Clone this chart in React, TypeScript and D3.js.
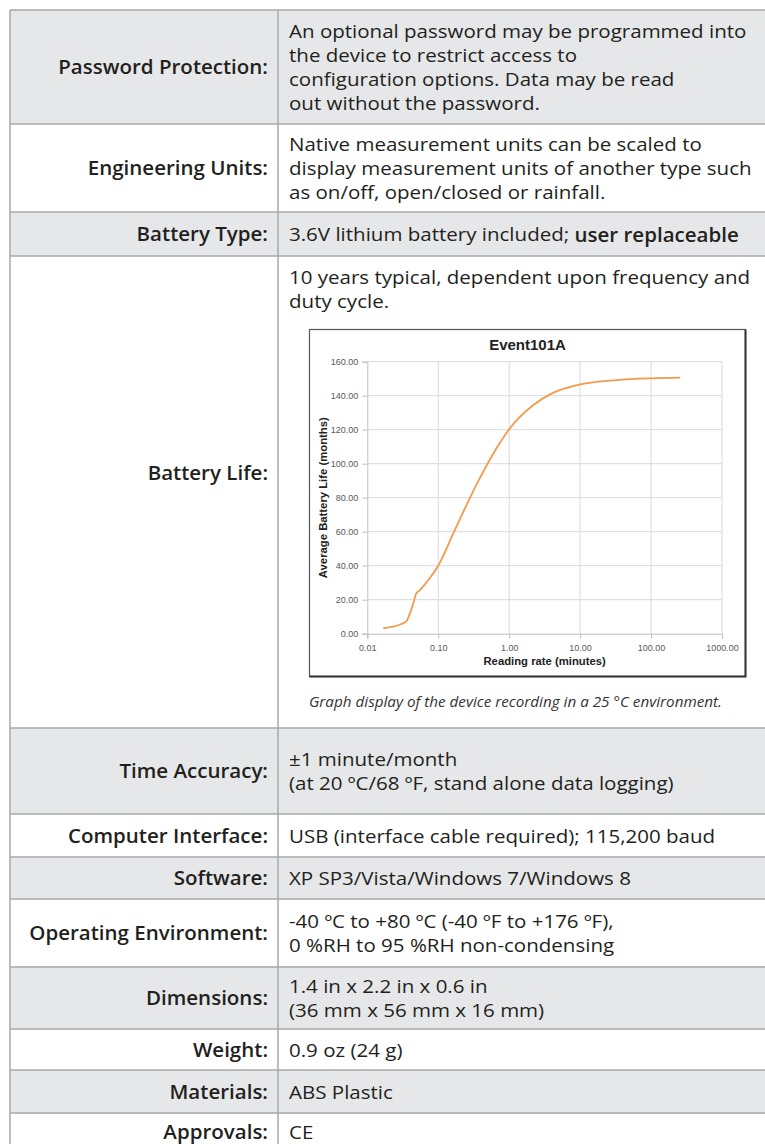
import { useEffect, useRef } from "react";
import * as d3 from "d3";

// battery life curve
const readingRate = [0.0168, 0.0289, 0.036, 0.0378, 0.0446, 0.0486, 0.0553, 0.0724, 0.1, 0.163, 0.296, 0.389, 0.483, 0.703, 1.0, 2.19, 4.2, 10, 32.9, 102, 257];
const batteryLife = [3.2, 5.4, 7.5, 9.5, 17.9, 23.4, 25.7, 31.6, 40, 59, 82, 91.8, 99.1, 110.8, 120.3, 134.5, 141.8, 146.7, 149.2, 150.2, 150.6];
const xTicks = [0.01, 0.1, 1, 10, 100, 1000];
const yTicks = [0, 20, 40, 60, 80, 100, 120, 140, 160];

// spec table
const labels = [
  "Password Protection:",
  "Engineering Units:",
  "Battery Type:",
  "Battery Life:",
  "Time Accuracy:",
  "Computer Interface:",
  "Software:",
  "Operating Environment:",
  "Dimensions:",
  "Weight:",
  "Materials:",
  "Approvals:",
];
const values: string[][] = [
  [
    "An optional password may be programmed into",
    "the device to restrict access to",
    "configuration options. Data may be read",
    "out without the password.",
  ],
  [
    "Native measurement units can be scaled to",
    "display measurement units of another type such",
    "as on/off, open/closed or rainfall.",
  ],
  ["3.6V lithium battery included; |user replaceable"],
  ["10 years typical, dependent upon frequency and", "duty cycle."],
  ["±1 minute/month", "(at 20 ºC/68 ºF, stand alone data logging)"],
  ["USB (interface cable required); 115,200 baud"],
  ["XP SP3/Vista/Windows 7/Windows 8"],
  ["-40 ºC to +80 ºC (-40 ºF to +176 ºF),", "0 %RH to 95 %RH non-condensing"],
  ["1.4 in x 2.2 in x 0.6 in", "(36 mm x 56 mm x 16 mm)"],
  ["0.9 oz (24 g)"],
  ["ABS Plastic"],
  ["CE"],
];
const caption = "Graph display of the device recording in a 25 °C environment.";

// layout
const W = 765;
const H = 1144;
const rowEdges = [10, 124, 212, 256, 728, 814, 857, 899, 967, 1029, 1070, 1113, 1150];
const tableLeft = 10;
const divider = 278;
const lineGap = 24;
const font = "'Open Sans', sans-serif";
const fs = 19;
const sx = 1.08; // the source face is wider than Open Sans at this height
const ink = "#231f20";

function Chart() {
  const ref = useRef<SVGGElement | null>(null);

  useEffect(() => {
    if (!ref.current) return;
    const g = d3.select(ref.current);
    g.selectAll("*").remove();

    const box = { x: 309.5, y: 329.5, w: 436, h: 347 };
    const x = d3.scaleLog().domain([0.01, 1000]).range([367.3, 722]);
    const y = d3.scaleLinear().domain([0, 160]).range([633.7, 361.7]);
    const fmt = d3.format(".2f");
    const sans = "'Liberation Sans', Arial, sans-serif";

    g.append("rect")
      .attr("x", box.x)
      .attr("y", box.y)
      .attr("width", box.w)
      .attr("height", box.h)
      .attr("fill", "#fff")
      .attr("stroke", "#555")
      .attr("stroke-width", 1.2);
    g.append("path")
      .attr("d", `M${box.x + box.w},${box.y} V${box.y + box.h} H${box.x}`)
      .attr("fill", "none")
      .attr("stroke", "#333")
      .attr("stroke-width", 2);

    // gridlines
    g.append("g")
      .selectAll("line")
      .data(yTicks.slice(1))
      .join("line")
      .attr("x1", x(0.01))
      .attr("x2", x(1000))
      .attr("y1", (d) => y(d))
      .attr("y2", (d) => y(d))
      .attr("stroke", "#d9d9d9")
      .attr("stroke-width", 1);
    g.append("g")
      .selectAll("line")
      .data(xTicks.slice(1))
      .join("line")
      .attr("x1", (d) => x(d))
      .attr("x2", (d) => x(d))
      .attr("y1", y(0))
      .attr("y2", y(160))
      .attr("stroke", "#d9d9d9")
      .attr("stroke-width", 1);

    const yAxis = g
      .append("g")
      .attr("transform", `translate(${x(0.01)},0)`)
      .call(
        d3
          .axisLeft(y)
          .tickValues(yTicks)
          .tickFormat((d) => fmt(d as number))
          .tickSize(5)
          .tickPadding(4)
      );
    const xAxis = g
      .append("g")
      .attr("transform", `translate(0,${y(0)})`)
      .call(
        d3
          .axisBottom(x)
          .tickValues(xTicks)
          .tickFormat((d) => fmt(d as number))
          .tickSize(5)
          .tickPadding(6)
      );
    [yAxis, xAxis].forEach((a) => {
      a.select(".domain").attr("stroke", "#bfbfbf");
      a.selectAll(".tick line").attr("stroke", "#bfbfbf");
      a.selectAll("text")
        .attr("fill", "#595959")
        .style("font-size", "9px")
        .style("font-family", sans);
    });

    const line = d3
      .line<number>()
      .x((d) => x(d))
      .y((_, i) => y(batteryLife[i]))
      .curve(d3.curveMonotoneX);
    g.append("path")
      .attr("d", line(readingRate))
      .attr("fill", "none")
      .attr("stroke", "#f39a4c")
      .attr("stroke-width", 1.8);

    g.append("text")
      .attr("x", box.x + box.w / 2)
      .attr("y", 344)
      .attr("dominant-baseline", "central")
      .attr("text-anchor", "middle")
      .attr("fill", "#222")
      .style("font", `bold 15px ${sans}`)
      .text("Event101A");
    g.append("text")
      .attr("x", (x(0.01) + x(1000)) / 2)
      .attr("y", 661)
      .attr("dominant-baseline", "central")
      .attr("text-anchor", "middle")
      .attr("fill", "#222")
      .style("font", `bold 11.3px ${sans}`)
      .text("Reading rate (minutes)");
    g.append("text")
      .attr("transform", `translate(323,${(y(0) + y(160)) / 2}) rotate(-90)`)
      .attr("dominant-baseline", "central")
      .attr("text-anchor", "middle")
      .attr("fill", "#222")
      .style("font", `bold 11.3px ${sans}`)
      .text("Average Battery Life (months)");
  }, []);

  return <g ref={ref} />;
}

export default function App() {
  return (
    <div style={{ position: "absolute", left: 0, top: 0 }}>
      <svg width={W} height={H} style={{ display: "block" }}>
        <rect width={W} height={H} fill="#fff" />
        {labels.map((label, i) => {
          const top = rowEdges[i];
          const bottom = rowEdges[i + 1];
          const lines = values[i];
          const mid = i === 3 ? 473 : (top + bottom) / 2;
          const firstLine = i === 3 ? 277 : mid - ((lines.length - 1) * lineGap) / 2;
          return (
            <g key={label}>
              <rect
                x={tableLeft}
                y={top}
                width={W - tableLeft}
                height={bottom - top}
                fill={i % 2 === 0 ? "#e6e7e8" : "#fff"}
              />
              <text
                transform={`translate(268,${mid}) scale(${sx},1)`}
                textAnchor="end"
                dominantBaseline="central"
                fill={ink}
                fontFamily={font}
                fontWeight={600}
                fontSize={fs}
              >
                {label}
              </text>
              {lines.map((ln, j) => {
                const [plain, bold] = ln.split("|");
                return (
                  <text
                    key={j}
                    transform={`translate(289,${firstLine + j * lineGap}) scale(${sx},1)`}
                    dominantBaseline="central"
                    fill={ink}
                    fontFamily={font}
                    fontSize={fs}
                  >
                    {plain}
                    {bold && <tspan fontWeight={600}>{bold}</tspan>}
                  </text>
                );
              })}
            </g>
          );
        })}
        {/* grid of the table */}
        {rowEdges.slice(0, -1).map((e) => (
          <line key={e} x1={tableLeft} x2={W} y1={e} y2={e} stroke="#a7a9ac" strokeWidth={1.5} />
        ))}
        <line x1={tableLeft} x2={tableLeft} y1={rowEdges[0]} y2={H} stroke="#a7a9ac" strokeWidth={1.5} />
        <line x1={divider} x2={divider} y1={rowEdges[0]} y2={H} stroke="#a7a9ac" strokeWidth={1.5} />

        <Chart />
        <text
          transform={`translate(309,701) scale(1.073,1)`}
          dominantBaseline="central"
          fill="#333"
          fontFamily={font}
          fontStyle="italic"
          fontSize={14.2}
        >
          {caption}
        </text>
      </svg>
    </div>
  );
}
